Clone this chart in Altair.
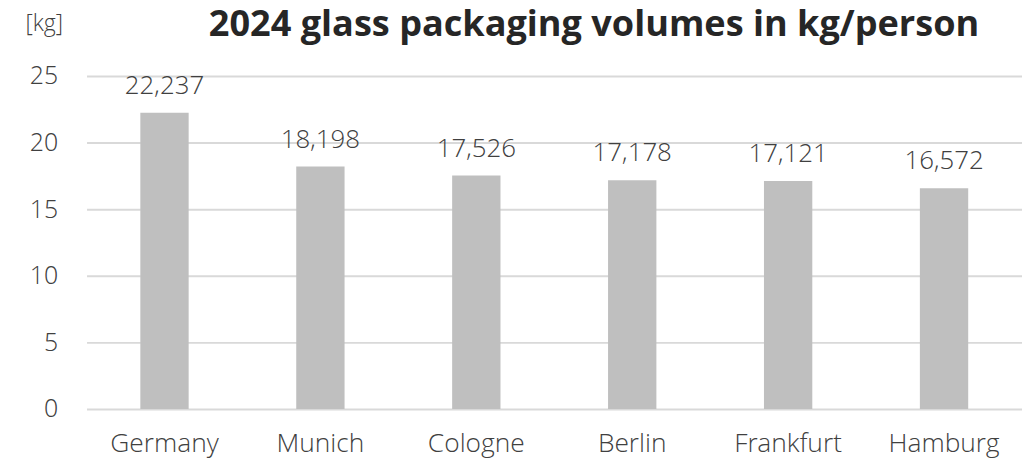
import altair as alt
import pandas as pd

categories = ["Germany", "Munich", "Cologne", "Berlin", "Frankfurt", "Hamburg"]
values = [22.237, 18.198, 17.526, 17.178, 17.121, 16.572]
labels = ["22,237", "18,198", "17,526", "17,178", "17,121", "16,572"]
y_ticks = [0, 5, 10, 15, 20, 25]

df = pd.DataFrame({"city": categories, "value": values, "label": labels})

FONT = "'Open Sans Light', 'Open Sans'"
TFONT = "Open Sans"
TXT = "#404040"

x = alt.X("city:N", sort=categories, title=None,
          scale=alt.Scale(paddingInner=0.69, paddingOuter=0.345),
          axis=alt.Axis(labelAngle=0, labelFont=FONT, labelFontSize=26.5, labelFontWeight=300,
                        labelColor=TXT, labelPadding=22, ticks=False, domain=False, grid=False))
y = alt.Y("value:Q", title="[kg]",
          scale=alt.Scale(domain=[0, 25], nice=False),
          axis=alt.Axis(values=y_ticks, labelFont=FONT, labelFontSize=25, labelFontWeight=300,
                        labelColor=TXT, labelPadding=29, ticks=False, domain=False,
                        gridColor="#d9d9d9", gridWidth=2,
                        titleAngle=0, titleAlign="left", titleBaseline="alphabetic",
                        titleX=-62, titleY=-46, titleFont=FONT, titleFontSize=23,
                        titleFontWeight=300, titleColor=TXT))

bars = alt.Chart(df).mark_bar(color="#bfbfbf").encode(x=x, y=y)
text = alt.Chart(df).mark_text(font=FONT, fontSize=26, fontWeight=300, color=TXT,
                               baseline="alphabetic", dy=-19).encode(
    x=alt.X("city:N", sort=categories), y="value:Q", text="label:N")

chart = (bars + text).properties(
    width=941, height=335,
    title=alt.TitleParams("2024 glass packaging volumes in kg/person", font=TFONT,
                          fontSize=36.3, fontWeight="bold", color="#262626",
                          anchor="middle", dx=40, offset=-31),
    autosize=alt.AutoSizeParams(type="none"),
    padding={"left": 79, "top": 67, "right": 0, "bottom": 55},
).configure_view(stroke=None)

chart.save("out.html", embed_options={"renderer": "svg", "actions": False})
